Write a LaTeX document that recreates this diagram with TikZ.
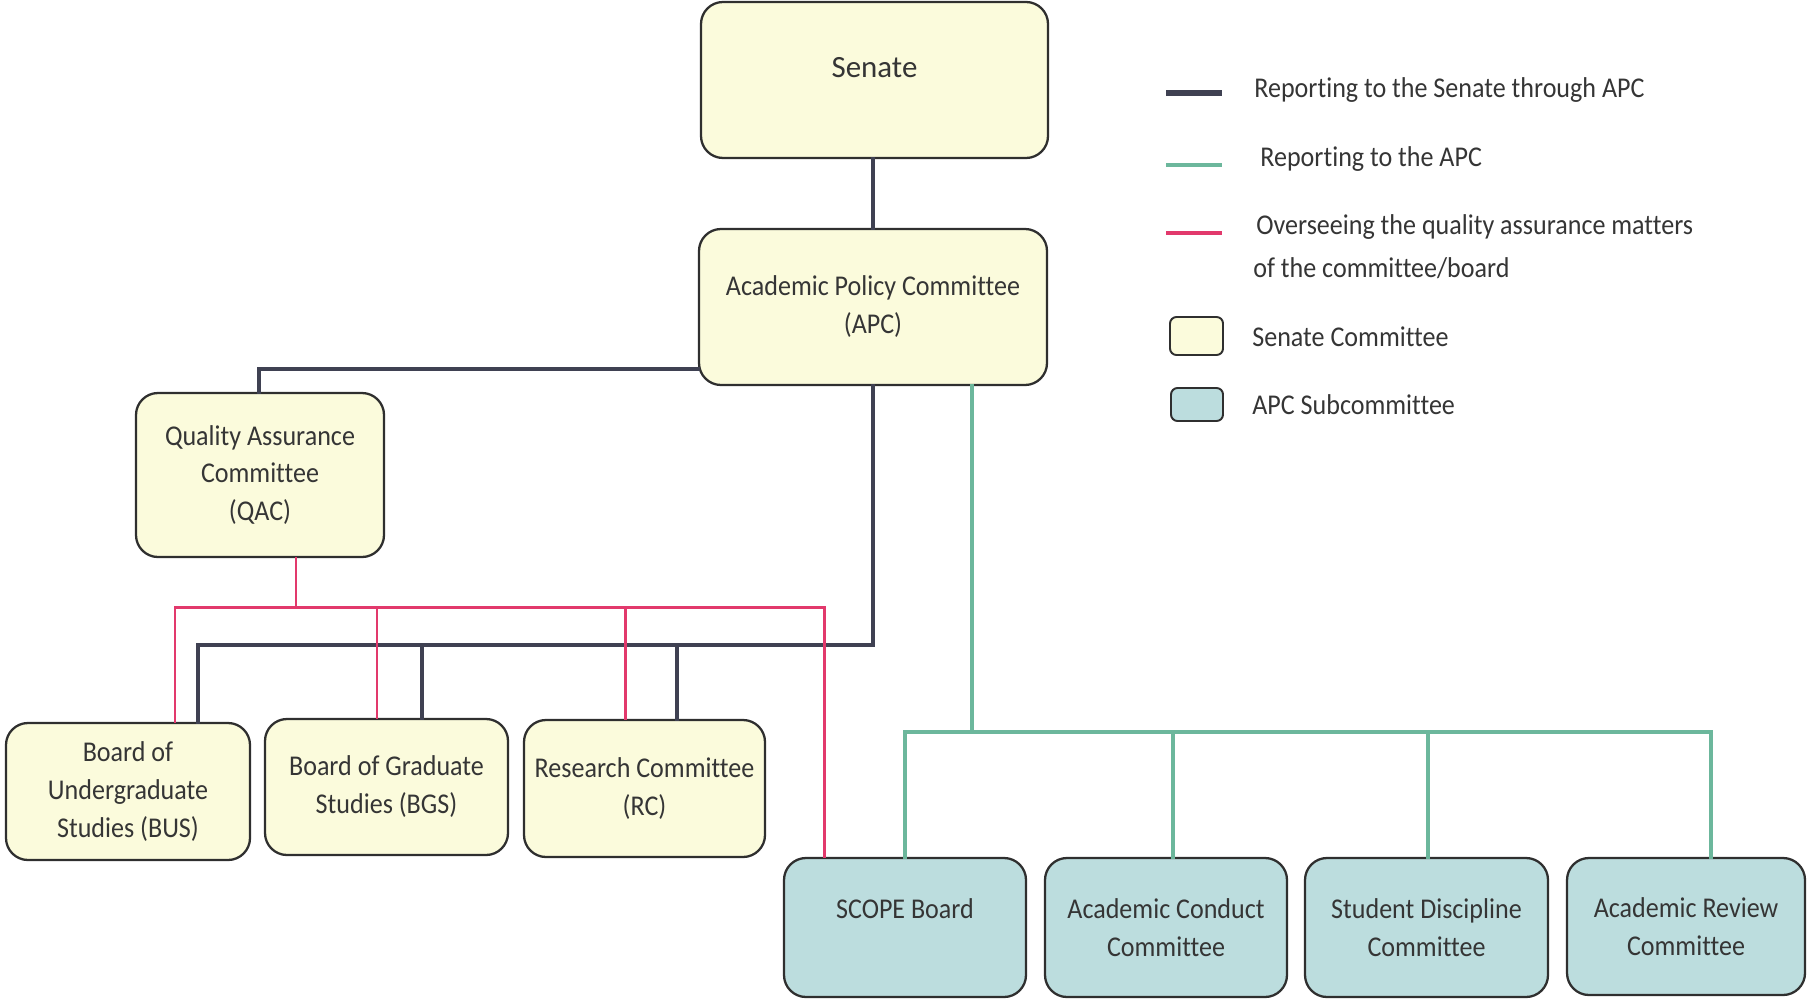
\documentclass[tikz,border=0pt]{standalone}
\usepackage{fontspec}
\setmainfont{Carlito}
\newfontfamily\cfont[FakeStretch=0.91,Ligatures=NoCommon]{Carlito}
\newfontfamily\sfont[Ligatures=NoCommon]{Carlito}
\definecolor{darkln}{HTML}{3F4152}
\definecolor{greenln}{HTML}{6CB79C}
\definecolor{pinkln}{HTML}{E2396C}
\definecolor{cream}{HTML}{FBFBDC}
\definecolor{tealfill}{HTML}{BCDDDE}
\definecolor{bord}{HTML}{2F2F2F}
\definecolor{txt}{HTML}{353535}
\tikzset{
  box/.style={draw=bord, line width=1.3pt, rounded corners=0.44cm, align=center,
    text=txt, font=\cfont\fontsize{16.3}{21.6}\selectfont, inner sep=0pt},
  senbox/.style={box, fill=cream},
  subbox/.style={box, fill=tealfill},
  sz/.style 2 args={minimum width=#1*0.02cm, minimum height=#2*0.02cm},
  rep/.style={draw=darkln, line width=2.8pt, line cap=rect},
  apcl/.style={draw=greenln, line width=2.1pt, line cap=rect},
  qal/.style={draw=pinkln, line width=1.7pt, line cap=rect},
  legtxt/.style={anchor=base west, inner sep=0pt, text=txt, font=\cfont\fontsize{16.3}{21.6}\selectfont},
  legbox/.style={draw=bord, line width=1.1pt, rounded corners=0.13cm, inner sep=0pt}
}
\begin{document}
\begin{tikzpicture}[x=0.02cm, y=-0.02cm]
\useasboundingbox (0,0) rectangle (1807,1000);
% nodes
\node[senbox, sz={347}{156}, text depth=14.7pt, font=\sfont\fontsize{17.6}{21.6}\selectfont] (senate) at (874.5,80) {Senate};
\node[senbox, sz={348}{156}] (apc) at (873,307) {Academic Policy Committee\\(APC)};
\node[senbox, sz={248}{164}] (qac) at (260,475) {Quality Assurance\\Committee\\(QAC)};
\node[senbox, sz={244}{137}] (bus) at (128,791.5) {Board of\\Undergraduate\\Studies (BUS)};
\node[senbox, sz={243}{136}] (bgs) at (386.5,787) {Board of Graduate\\Studies (BGS)};
\node[senbox, sz={241}{137}] (rc) at (644.5,788.5) {Research Committee\\(RC)};
\node[subbox, sz={242}{139}, text depth=22pt] (scope) at (905,927.5) {SCOPE Board};
\node[subbox, sz={242}{139}] (acc) at (1166,927.5) {Academic Conduct\\Committee};
\node[subbox, sz={243}{139}] (sdc) at (1426.5,927.5) {Student Discipline\\Committee};
\node[subbox, sz={238}{137}] (arc) at (1686,926.5) {Academic Review\\Committee};
% dark connectors
\coordinate (dbar) at (873,645);
\draw[rep] (senate.south -| apc.south) -- (apc.north);
\draw[rep] (apc.west |- 0,369) -| (qac.north -| 259,0);
\draw[rep] (apc.south) -- (dbar);
\draw[rep] (bus.north -| 198,0) |- (dbar);
\draw[rep] (bgs.north -| 422,0) |- (dbar);
\draw[rep] (rc.north -| 677,0) |- (dbar);
% pink connectors
\coordinate (pbar) at (296,607);
\draw[qal] (qac.south -| 296,0) -- (pbar);
\draw[qal] (bus.north -| 175,0) |- (pbar);
\draw[qal] (bgs.north -| 377,0) |- (pbar);
\draw[qal] (rc.north -| 625,0) |- (pbar);
\draw[qal] (scope.north -| 824,0) |- (pbar);
% green connectors
\coordinate (gbar) at (972,732);
\draw[apcl] (apc.south -| 972,0) -- (gbar);
\draw[apcl] (scope.north) |- (gbar);
\draw[apcl] (acc.north -| 1173,0) |- (gbar);
\draw[apcl] (sdc.north -| 1428,0) |- (gbar);
\draw[apcl] (arc.north -| 1711,0) |- (gbar);
% legend
\draw[draw=darkln, line width=3.2pt] (1166,93) -- (1222,93);
\draw[draw=greenln, line width=2.6pt] (1166,165) -- (1222,165);
\draw[draw=pinkln, line width=1.9pt] (1166,233) -- (1222,233);
\node[legbox, fill=cream, minimum width=53*0.02cm, minimum height=38*0.02cm] (legsen) at (1196.5,336) {};
\node[legbox, fill=tealfill, minimum width=52*0.02cm, minimum height=33*0.02cm] (legsub) at (1197,404.5) {};
\node[legtxt] (lt1) at (1254,98) {Reporting to the Senate through APC};
\node[legtxt] (lt2) at (1260,167) {Reporting to the APC};
\node[legtxt] (lt3) at (1256,235) {Overseeing the quality assurance matters};
\node[legtxt] (lt4) at (1253,277) {of the committee/board};
\node[legtxt] (lt5) at (1252,346) {Senate Committee};
\node[legtxt] (lt6) at (1252,414) {APC Subcommittee};
\end{tikzpicture}
\end{document}
